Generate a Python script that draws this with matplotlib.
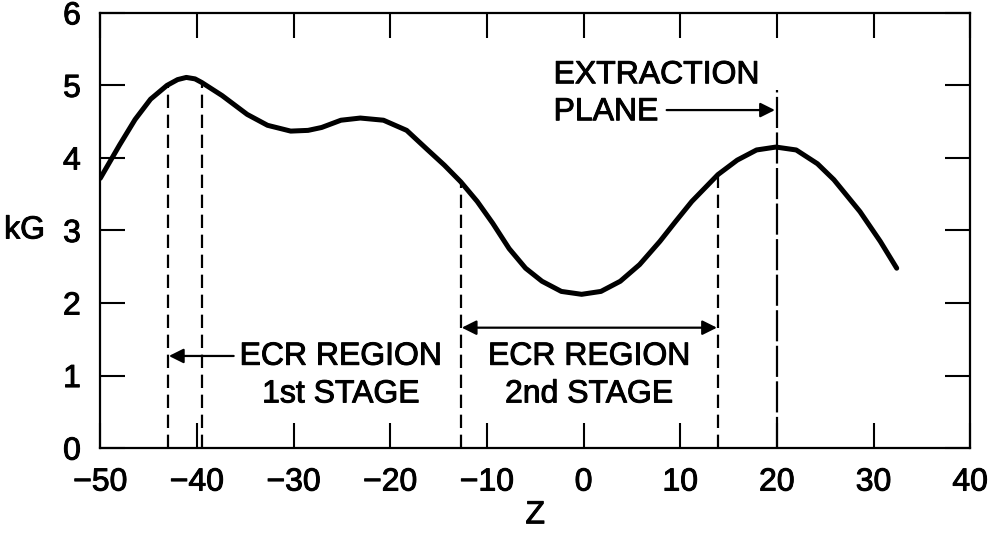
import numpy as np
import matplotlib
matplotlib.use("Agg")
import matplotlib.pyplot as plt
import matplotlib.patheffects as pe

plt.rcParams["font.family"] = ["Liberation Sans", "DejaVu Sans"]

# field profile
z = [-50, -48, -46.4, -44.8, -43.1, -42, -41.1, -40.2, -39.5, -37.4, -34.8,
     -32.7, -30.3, -28.5, -27.1, -25.1, -23.1, -20.7, -18.3, -16.2, -14.4,
     -12.7, -11.0, -9.4, -7.7, -6.0, -4.3, -2.3, -0.2, 1.8, 3.8, 5.8, 7.9,
     9.5, 11.2, 13.9, 15.9, 17.9, 19.9, 22.0, 24.2, 25.9, 28.6, 30.7, 32.4]
kg = [3.72, 4.18, 4.53, 4.81, 5.00, 5.08, 5.11, 5.09, 5.04, 4.86, 4.60,
      4.45, 4.37, 4.38, 4.42, 4.52, 4.55, 4.52, 4.38, 4.12, 3.90,
      3.67, 3.40, 3.10, 2.75, 2.48, 2.30, 2.16, 2.12, 2.16, 2.30, 2.53, 2.85,
      3.12, 3.40, 3.77, 3.97, 4.11, 4.15, 4.11, 3.92, 3.70, 3.26, 2.85, 2.48]

# region boundaries (z, top of line)
stage1 = [(-43.0, 5.00), (-39.5, 5.04)]
stage2 = [(-12.7, 3.67), (13.9, 3.77)]
extraction_z = 20.0
extraction_top = 4.93

xticks = [-50, -40, -30, -20, -10, 0, 10, 20, 30, 40]
xticklabels = ["\u221250", "\u221240", "\u221230", "\u221220", "\u221210",
               "0", "10", "20", "30", "40"]
yticks = [0, 1, 2, 3, 4, 5, 6]

fs = 23
thick = [pe.withStroke(linewidth=0.7, foreground="black")]

fig = plt.figure(figsize=(9.93, 5.36), dpi=100)
ax = fig.add_axes([0.101, 0.164, 0.876, 0.812])

ax.plot(z, kg, color="black", lw=3.6, solid_capstyle="round", solid_joinstyle="round")

for zz, top in stage1 + stage2:
    ax.plot([zz, zz], [0, top], color="black", lw=1.6, dashes=(6, 3))
ax.plot([extraction_z, extraction_z], [0, extraction_top], color="black",
        lw=1.6, dashes=(14, 2))

arrow_kw = dict(color="black", lw=1.6, mutation_scale=22, shrinkA=0, shrinkB=0)

# 1st stage arrow + label
ax.annotate("", xy=(-42.9, 1.27), xytext=(-36.2, 1.27),
            arrowprops=dict(arrowstyle="-|>", **arrow_kw))
ax.text(-25.1, 1.26, "ECR REGION", fontsize=fs, ha="center", va="center", path_effects=thick)
ax.text(-25.1, 0.74, "1st STAGE", fontsize=fs, ha="center", va="center", path_effects=thick)

# 2nd stage double arrow + label
ax.annotate("", xy=(-12.6, 1.66), xytext=(13.8, 1.66),
            arrowprops=dict(arrowstyle="<|-|>", **arrow_kw))
ax.text(0.6, 1.26, "ECR REGION", fontsize=fs, ha="center", va="center", path_effects=thick)
ax.text(0.6, 0.74, "2nd STAGE", fontsize=fs, ha="center", va="center", path_effects=thick)

# extraction plane
ax.text(-3.1, 5.14, "EXTRACTION", fontsize=fs, ha="left", va="center", path_effects=thick)
ax.text(-3.1, 4.63, "PLANE", fontsize=fs, ha="left", va="center", path_effects=thick)
ax.annotate("", xy=(19.8, 4.66), xytext=(8.6, 4.66),
            arrowprops=dict(arrowstyle="-|>", **arrow_kw))

ax.set_xlim(-50, 40)
ax.set_ylim(0, 6)
ax.set_xticks(xticks)
ax.set_xticklabels(xticklabels)
ax.set_yticks(yticks)
ax.tick_params(direction="in", length=18, width=1.5, labelsize=fs,
               top=True, right=True, pad=14)
for lab in ax.get_xticklabels() + ax.get_yticklabels():
    lab.set_path_effects(thick)
for s in ax.spines.values():
    s.set_linewidth(1.6)

ax.set_xlabel("Z", fontsize=fs, labelpad=2, path_effects=thick)
ax.set_ylabel("kG", fontsize=fs, rotation=0, va="center", path_effects=thick)
ax.yaxis.set_label_coords(-0.087, 0.5)

fig.savefig("out.png", dpi=100)
